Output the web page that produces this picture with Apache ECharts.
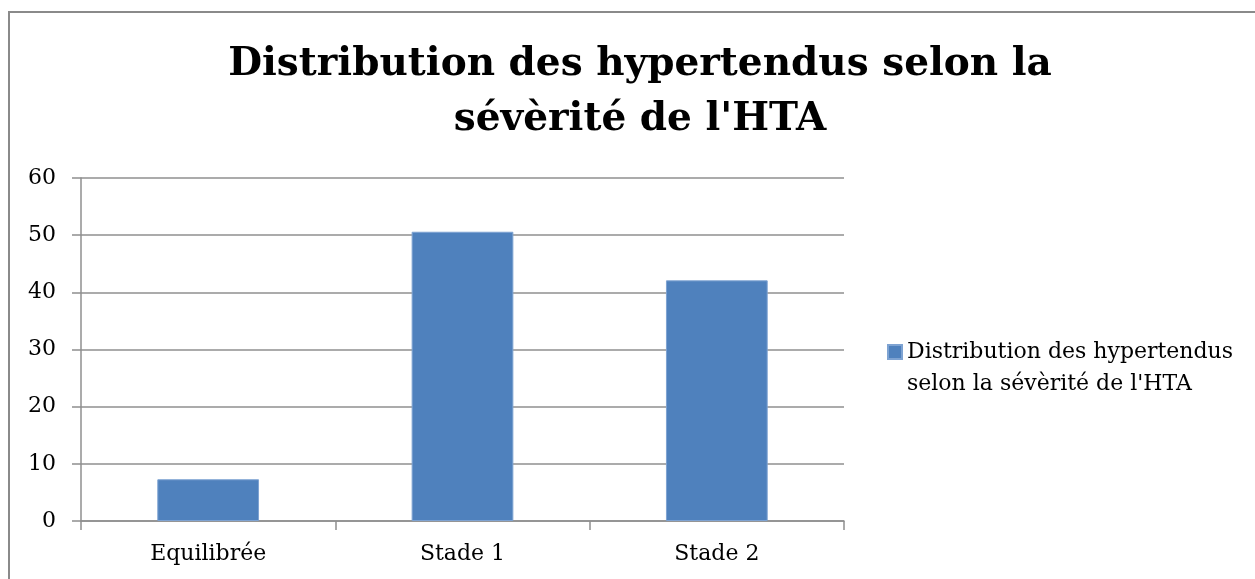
<!DOCTYPE html>
<html>
<head>
<meta charset="utf-8">
<script src="https://cdn.jsdelivr.net/npm/echarts@6/dist/echarts.min.js"></script>
<style>
html,body{margin:0;padding:0;background:#fff;}
#main{width:1255px;height:579px;}
</style>
</head>
<body>
<div id="main"></div>
<script>
const categories = ['Equilibrée', 'Stade 1', 'Stade 2'];
const values = [7.3, 50.6, 42.1];
const yTicks = [0, 10, 20, 30, 40, 50, 60];
const seriesName = "Distribution des hypertendus\nselon la sévèrité de l'HTA";
const titleText = "Distribution des hypertendus selon la\nsévèrité de l'HTA";

const chart = echarts.init(document.getElementById('main'));
const axisGray = '#8f8f8f';
const font = 'DejaVu Serif';
chart.setOption({
  animation: false,
  backgroundColor: '#fff',
  graphic: [{
    type: 'rect', silent: true,
    shape: { x: 9, y: 12, width: 1400, height: 700 },
    style: { fill: 'none', stroke: '#8a8a8a', lineWidth: 2 }
  }],
  title: {
    text: titleText,
    left: 640,
    top: 37,
    padding: 0,
    textAlign: 'center',
    textStyle: { fontFamily: font, fontWeight: 'bold', fontSize: 39, lineHeight: 55, color: '#000' }
  },
  legend: {
    left: 887, top: 304, padding: 0,
    itemWidth: 14, itemHeight: 14, itemGap: 0,
    icon: 'rect',
    formatter: function (name) { return ' \n' + name; },
    textStyle: { fontFamily: font, fontSize: 22, lineHeight: 32, color: '#000' },
    data: [seriesName]
  },
  grid: { left: 81, right: 411, top: 178, bottom: 58, containLabel: false },
  xAxis: {
    type: 'category',
    data: categories,
    axisLine: { lineStyle: { color: axisGray, width: 1.5 } },
    axisTick: { show: true, length: 9, alignWithLabel: false, lineStyle: { color: axisGray, width: 1.5 } },
    axisLabel: { fontFamily: font, fontSize: 22, color: '#000', margin: 22 }
  },
  yAxis: {
    type: 'value',
    min: yTicks[0], max: yTicks[yTicks.length - 1], interval: 10,
    axisLine: { show: true, lineStyle: { color: axisGray, width: 1.5 } },
    axisTick: { show: true, length: 9, lineStyle: { color: axisGray, width: 1.5 } },
    splitLine: { show: true, lineStyle: { color: axisGray, width: 1.5 } },
    axisLabel: { fontFamily: font, fontSize: 22, color: '#000', margin: 25 }
  },
  series: [{
    name: seriesName,
    type: 'bar',
    data: values,
    barWidth: '40%',
    itemStyle: { color: '#4f81bd', borderColor: '#7ea3d2', borderWidth: 1 }
  }]
});
</script>
</body>
</html>
